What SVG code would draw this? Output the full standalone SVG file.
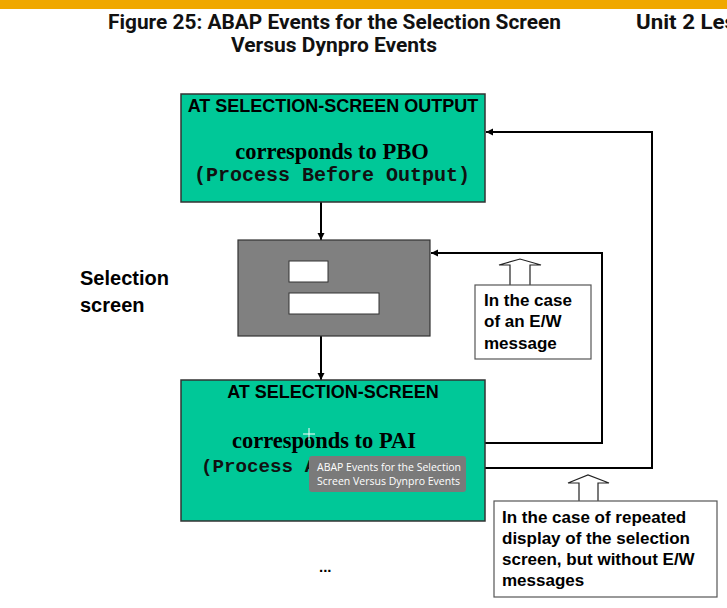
<svg xmlns="http://www.w3.org/2000/svg" width="727" height="608" viewBox="0 0 727 608">
<defs>
<marker id="ah" markerWidth="8" markerHeight="8" refX="7" refY="4" orient="auto" markerUnits="userSpaceOnUse">
<path d="M0,0.5 L7,4 L0,7.5 Z" fill="#000"/>
</marker>
<style>
.title{font-family:"Roboto","Liberation Sans",sans-serif;font-weight:bold;font-size:21px;fill:#111;}
.ev{fill:#00C898;stroke:#333;stroke-width:1.5;}
.h{font-family:"Liberation Sans",Arial,sans-serif;font-weight:bold;font-size:18px;fill:#000;}
.ser{font-family:"Liberation Serif","Times New Roman",serif;font-weight:bold;font-size:22.5px;fill:#000;}
.mono{font-family:"Liberation Mono","Courier New",monospace;font-weight:bold;font-size:20px;fill:#111;}
.lbl{font-family:"Liberation Sans",Arial,sans-serif;font-weight:bold;font-size:17px;fill:#000;}
.note{fill:#fff;stroke:#555;stroke-width:1.2;}
.conn{fill:none;stroke:#000;stroke-width:2;}
.hollow{fill:#fff;stroke:#222;stroke-width:1.2;}
.tip{font-family:"Open Sans","Liberation Sans",sans-serif;font-size:10.5px;fill:#fff;}
</style>
</defs>
<rect x="0" y="0" width="727" height="608" fill="#fff"/>
<rect x="0" y="0" width="727" height="9" fill="#F0A800"/>
<g id="title">
<text class="title" x="108" y="29" textLength="453" lengthAdjust="spacingAndGlyphs">Figure 25: ABAP Events for the Selection Screen</text>
<text class="title" x="231" y="52" textLength="206" lengthAdjust="spacingAndGlyphs">Versus Dynpro Events</text>
<text class="title" x="636" y="29" textLength="100" lengthAdjust="spacingAndGlyphs">Unit 2 Les</text>
</g>
<g id="connectors">
<line class="conn" x1="321" y1="202" x2="321" y2="240" marker-end="url(#ah)"/>
<line class="conn" x1="321" y1="336" x2="321" y2="380" marker-end="url(#ah)"/>
<polyline class="conn" points="485,443 602,443 602,253 431,253" marker-end="url(#ah)"/>
<polyline class="conn" points="485,468 652,468 652,132 486,132" marker-end="url(#ah)"/>
</g>
<g id="pbo">
<rect class="ev" x="181" y="94" width="304" height="108"/>
<text class="h" x="333" y="112" text-anchor="middle">AT SELECTION-SCREEN OUTPUT</text>
<text class="ser" x="332" y="159" text-anchor="middle">corresponds to PBO</text>
<text class="mono" x="332" y="181" text-anchor="middle">(Process Before Output)</text>
</g>
<g id="screen">
<rect x="238" y="240" width="192" height="96" fill="#808080" stroke="#333" stroke-width="1.2"/>
<rect x="289" y="261" width="39" height="21" fill="#fff" stroke="#333" stroke-width="1"/>
<rect x="289" y="293" width="90" height="21" fill="#fff" stroke="#333" stroke-width="1"/>
</g>
<g id="screen-label">
<text class="lbl" x="80" y="285" style="font-size:20px">Selection</text>
<text class="lbl" x="80" y="312" style="font-size:20px">screen</text>
</g>
<g id="pai">
<rect class="ev" x="181" y="380" width="304" height="141"/>
<text class="h" x="333" y="398" text-anchor="middle">AT SELECTION-SCREEN</text>
<text class="ser" x="324" y="448" text-anchor="middle">corresponds to PAI</text>
<text class="mono" x="201" y="472" style="font-size:19.2px">(Process A</text>
</g>
<g id="note-ew">
<path class="hollow" d="M510,285 L510,265 L499,265 L520,259 L541,265 L530,265 L530,285"/>
<rect class="note" x="475" y="285" width="116" height="74"/>
<text class="lbl" x="484" y="306">In the case</text>
<text class="lbl" x="484" y="327">of an E/W</text>
<text class="lbl" x="484" y="349">message</text>
</g>
<g id="note-repeat">
<path class="hollow" d="M579,501 L579,483 L568,483 L588,475 L609,483 L598,483 L598,501"/>
<rect class="note" x="494" y="501" width="223" height="96"/>
<text class="lbl" x="502" y="523">In the case of repeated</text>
<text class="lbl" x="502" y="544">display of the selection</text>
<text class="lbl" x="502" y="565">screen, but without E/W</text>
<text class="lbl" x="502" y="586">messages</text>
</g>
<g id="ellipsis">
<text class="lbl" x="319" y="572" style="font-size:15px">...</text>
</g>
<g id="tooltip">
<rect x="309" y="456" width="157" height="36" rx="3" fill="#7a7a7a"/>
<text class="tip" x="317" y="471">ABAP Events for the Selection</text>
<text class="tip" x="317" y="485">Screen Versus Dynpro Events</text>
</g>
<g id="cursor" stroke="#fff" stroke-width="1">
<line x1="303" y1="434" x2="315" y2="434"/>
<line x1="309" y1="428" x2="309" y2="440"/>
</g>
</svg>
